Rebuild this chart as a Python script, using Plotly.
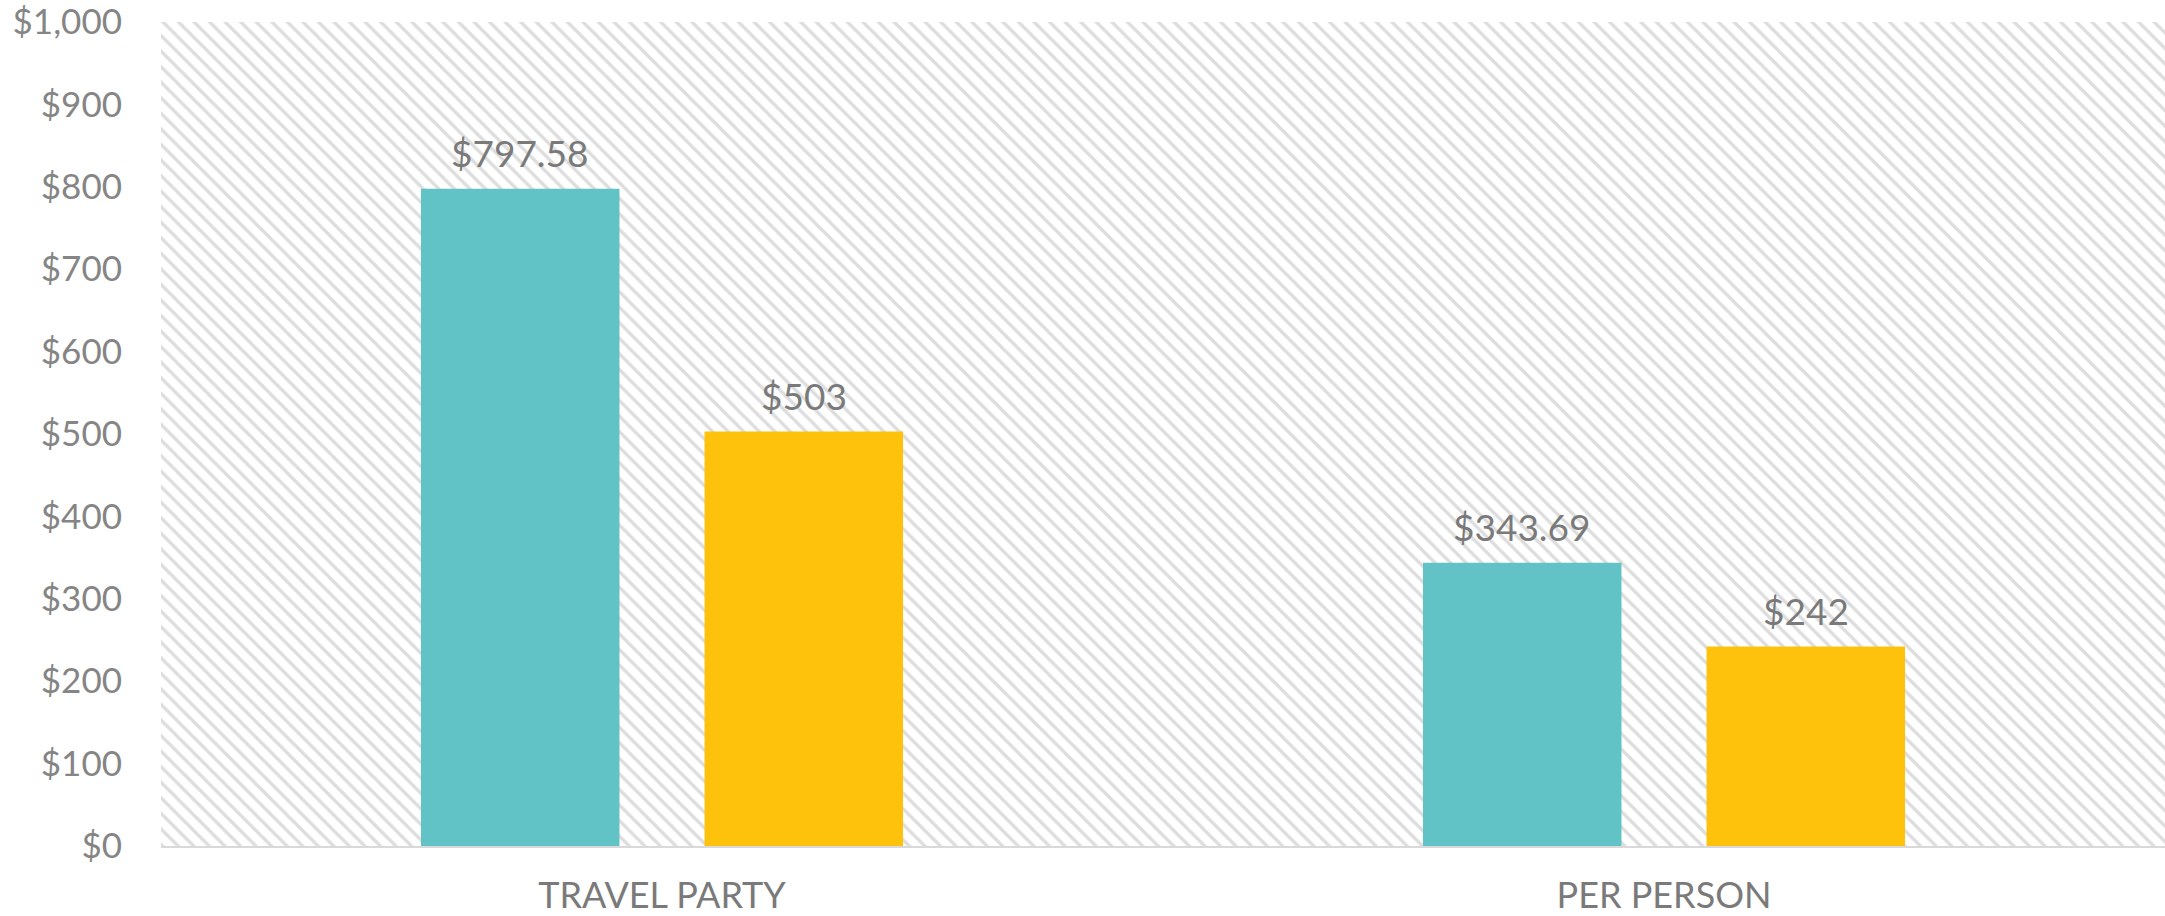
import plotly.graph_objects as go

categories = ["TRAVEL PARTY", "PER PERSON"]
series_a = [797.58, 343.69]
series_b = [503, 242]
labels_a = ["$797.58", "$343.69"]
labels_b = ["$503", "$242"]
y_ticks = [0, 100, 200, 300, 400, 500, 600, 700, 800, 900, 1000]
y_tick_text = ["$0", "$100", "$200", "$300", "$400", "$500", "$600", "$700", "$800", "$900", "$1,000"]

TEAL = "#61C3C5"
GOLD = "#FEC20C"
TEXT = "#7A7A7A"
FONT = "Lato"
BARGAP = 0.434
GROUPGAP = 0.30
Y_MAX = 1002.4

fig = go.Figure()

# hatched plot background on a hidden numeric axis
fig.add_trace(go.Bar(
    x=[0.5], y=[y_ticks[-1]], width=[1], xaxis="x", yaxis="y",
    marker=dict(color="white", line=dict(width=0),
                pattern=dict(shape="\\", fgcolor="#bcbcbc", bgcolor="white", size=11, solidity=0.3)),
    hoverinfo="skip", showlegend=False,
))

for vals, color in [(series_a, TEAL), (series_b, GOLD)]:
    fig.add_trace(go.Bar(
        x=categories, y=vals, xaxis="x2", yaxis="y",
        marker=dict(color=color, line=dict(width=0)),
        showlegend=False,
    ))

# value labels
slot = (1 - BARGAP) / 2
for i, (vals, labs) in enumerate([(series_a, labels_a), (series_b, labels_b)]):
    for c, (v, t) in enumerate(zip(vals, labs)):
        fig.add_annotation(
            x=c + (i - 0.5) * slot, y=v, xref="x2", yref="y",
            text=t, showarrow=False, yanchor="bottom", yshift=12,
            font=dict(family=FONT, size=37, color=TEXT),
        )

fig.update_layout(
    width=2165, height=916,
    margin=dict(l=161, r=0, t=20, b=70),
    paper_bgcolor="white", plot_bgcolor="white",
    barmode="group", bargap=BARGAP, bargroupgap=GROUPGAP,
    font=dict(family=FONT, color=TEXT),
    xaxis=dict(range=[0, 1], visible=False, fixedrange=True, automargin=False),
    xaxis2=dict(overlaying="x", side="bottom", type="category",
                range=[-0.5, 1.5], showgrid=False, ticks="", automargin=False,
                showline=True, linecolor="#d9d9d9", linewidth=2,
                tickfont=dict(family=FONT, size=36, color=TEXT), ticklabelstandoff=17),
    yaxis=dict(range=[0, Y_MAX], tickvals=y_ticks, ticktext=y_tick_text, automargin=False,
               showgrid=False, zeroline=False, ticks="", ticklabeloverflow="allow",
               tickfont=dict(family=FONT, size=35, color="#858585"), ticklabelstandoff=38),
)

fig.write_html("out.html", config={"displayModeBar": False},
               post_script="document.body.style.margin='0';document.body.style.overflow='hidden';")
